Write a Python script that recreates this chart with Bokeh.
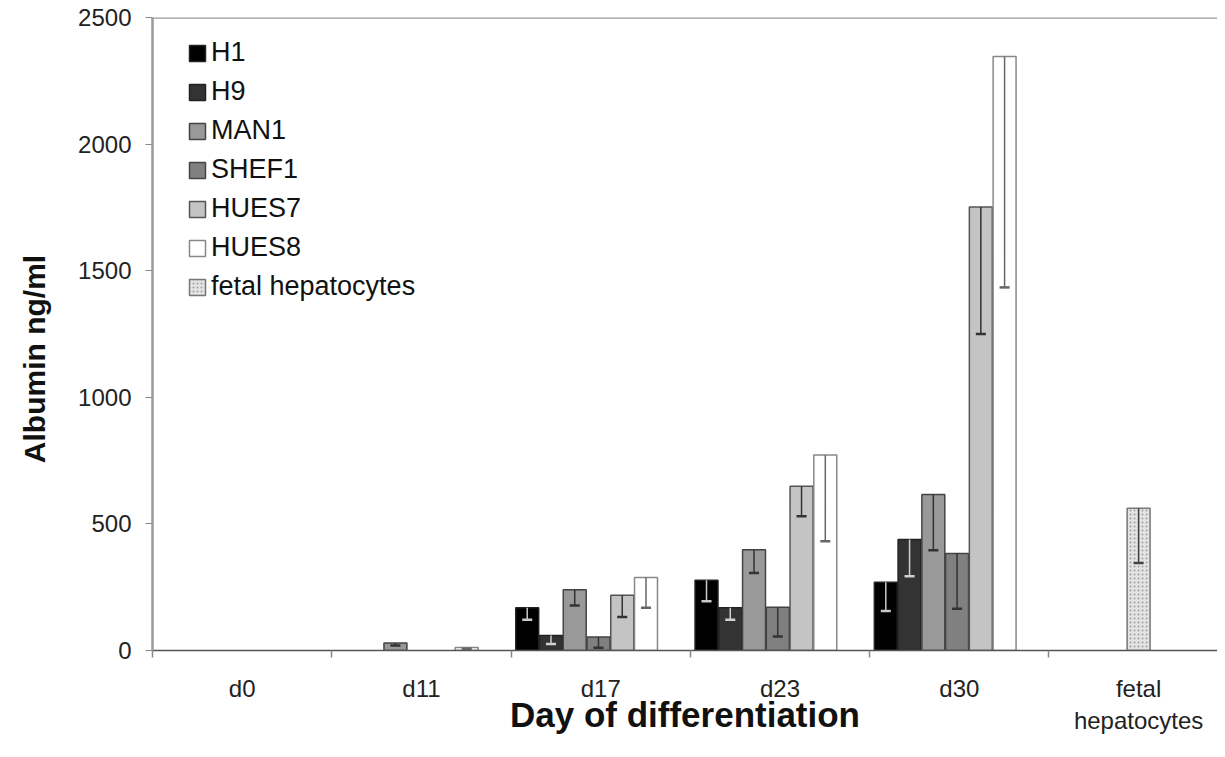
import math
from bokeh.plotting import figure
from bokeh.models import (ColumnDataSource, Range1d, FixedTicker, Legend, LegendItem, Span)
from bokeh.embed import file_html
from bokeh.resources import INLINE

# ---------------- data ----------------
days = ["d0", "d11", "d17", "d23", "d30"]
series_names = ["H1", "H9", "MAN1", "SHEF1", "HUES7", "HUES8"]
h1 = [0, 0, 169, 277, 270]
h1_err = [0, 0, 48, 82, 114]
h9 = [0, 0, 59, 169, 438]
h9_err = [0, 0, 33, 48, 145]
man1 = [0, 30, 240, 398, 616]
man1_err = [0, 10, 62, 92, 220]
shef1 = [0, 0, 53, 171, 383]
shef1_err = [0, 0, 42, 116, 218]
hues7 = [0, 0, 218, 649, 1752]
hues7_err = [0, 0, 86, 119, 502]
hues8 = [0, 12, 288, 772, 2346]
hues8_err = [0, 5, 119, 341, 912]
fetal_label = "fetal hepatocytes"
fetal_cat = "fetal\nhepatocytes"
fetal = [562]
fetal_err = [216]
y_ticks = [0, 500, 1000, 1500, 2000, 2500]

values = [h1, h9, man1, shef1, hues7, hues8]
errors = [h1_err, h9_err, man1_err, shef1_err, hues7_err, hues8_err]

# ---------------- style ----------------
fills = ["#000000", "#333333", "#999999", "#808080", "#c4c4c4", "#ffffff"]
lines = ["#222222", "#222222", "#444444", "#444444", "#555555", "#888888"]
err_cols = ["#c8c8c8", "#d0d0d0", "#333333", "#333333", "#333333", "#666666"]
bar_w = 0.128
step = 0.1325
first_off = -0.41
cap_half = 0.028

FONT = "Liberation Sans"
W, H = 1217, 755

p = figure(width=W, height=H, output_backend="svg", toolbar_location=None,
           x_range=Range1d(0, 5.94), y_range=Range1d(0, 2500),
           min_border_left=152, min_border_right=0, min_border_top=17,
           min_border_bottom=105)
p.outline_line_color = None
p.xgrid.visible = False
p.ygrid.visible = False
p.background_fill_color = "white"
p.border_fill_color = "white"


def add_errors(src, color):
    p.segment(x0="x", x1="x", y0="top", y1="low", source=src, line_color=color,
              line_width=1.5)
    p.segment(x0="cl", x1="cr", y0="low", y1="low", source=src, line_color=color,
              line_width=2.5)


legend_items = []
for k, (name, vals, errs) in enumerate(zip(series_names, values, errors)):
    xs, tops, lows = [], [], []
    for i, (v, e) in enumerate(zip(vals, errs)):
        if v > 0:
            xs.append(i + 0.5 + first_off + k * step)
            tops.append(v)
            lows.append(v - e)
    src = ColumnDataSource(dict(x=xs, top=tops, low=lows,
                                cl=[x - cap_half for x in xs],
                                cr=[x + cap_half for x in xs]))
    r = p.vbar(x="x", top="top", width=bar_w, source=src, fill_color=fills[k],
               line_color=lines[k], line_width=1.5)
    legend_items.append(LegendItem(label=name, renderers=[r]))
    add_errors(src, err_cols[k])

fx = [5.5]
fsrc = ColumnDataSource(dict(x=fx, top=fetal, low=[fetal[0] - fetal_err[0]],
                             cl=[x - cap_half for x in fx], cr=[x + cap_half for x in fx]))
rf = p.vbar(x="x", top="top", width=bar_w, source=fsrc, fill_color="#e4e4e4",
            line_color="#777777", line_width=1.5, hatch_pattern="dot",
            hatch_color="#9a9a9a", hatch_scale=4, hatch_alpha=0.9)
legend_items.append(LegendItem(label=fetal_label, renderers=[rf]))
add_errors(fsrc, "#444444")

# top frame line
p.add_layout(Span(location=2500, dimension="width", line_color="#999999", line_width=2.5))

# legend
leg = Legend(items=legend_items, location=(35, 348), orientation="vertical",
             border_line_color=None, background_fill_alpha=0,
             glyph_width=20, glyph_height=20, label_height=20, spacing=8,
             label_text_font=FONT, label_text_font_size="27px",
             label_text_color="#111111", padding=10, margin=0, label_standoff=4)
p.add_layout(leg)

# y axis
ya = p.yaxis[0]
ya.ticker = FixedTicker(ticks=y_ticks)
ya.axis_line_color = "#999999"
ya.axis_line_width = 2.5
ya.major_tick_line_color = "#888888"
ya.major_tick_out = 7
ya.major_tick_in = 0
ya.minor_tick_line_color = None
ya.major_label_text_font = FONT
ya.major_label_text_font_size = "24px"
ya.major_label_text_color = "#222222"
ya.major_label_standoff = 14
ya.axis_label = "Albumin ng/ml" + "\u00a0" * 6
ya.axis_label_text_font = FONT
ya.axis_label_text_font_style = "bold"
ya.axis_label_text_font_size = "30px"
ya.axis_label_text_color = "#111111"
ya.axis_label_standoff = 24

# x axis
xa = p.xaxis[0]
xa.ticker = FixedTicker(ticks=[0.5, 1.5, 2.5, 3.5, 4.5, 5.5],
                        minor_ticks=[0, 1, 2, 3, 4, 5, 6])
xa.major_label_overrides = {0.5: days[0], 1.5: days[1], 2.5: days[2], 3.5: days[3],
                            4.5: days[4], 5.5: fetal_cat}
xa.axis_line_color = "#555555"
xa.axis_line_width = 1.5
xa.major_tick_line_color = None
xa.major_tick_out = 0
xa.major_tick_in = 0
xa.minor_tick_line_color = "#888888"
xa.minor_tick_line_width = 1.5
xa.minor_tick_out = 7
xa.minor_tick_in = 0
xa.major_label_text_font = FONT
xa.major_label_text_font_size = "24px"
xa.major_label_text_color = "#222222"
xa.major_label_standoff = 17
xa.axis_label = "Day of differentiation"
xa.axis_label_text_font = FONT
xa.axis_label_text_font_style = "bold"
xa.axis_label_text_font_size = "35px"
xa.axis_label_text_color = "#111111"
xa.axis_label_standoff = -42

open("out.html", "w").write(file_html(p, INLINE))
